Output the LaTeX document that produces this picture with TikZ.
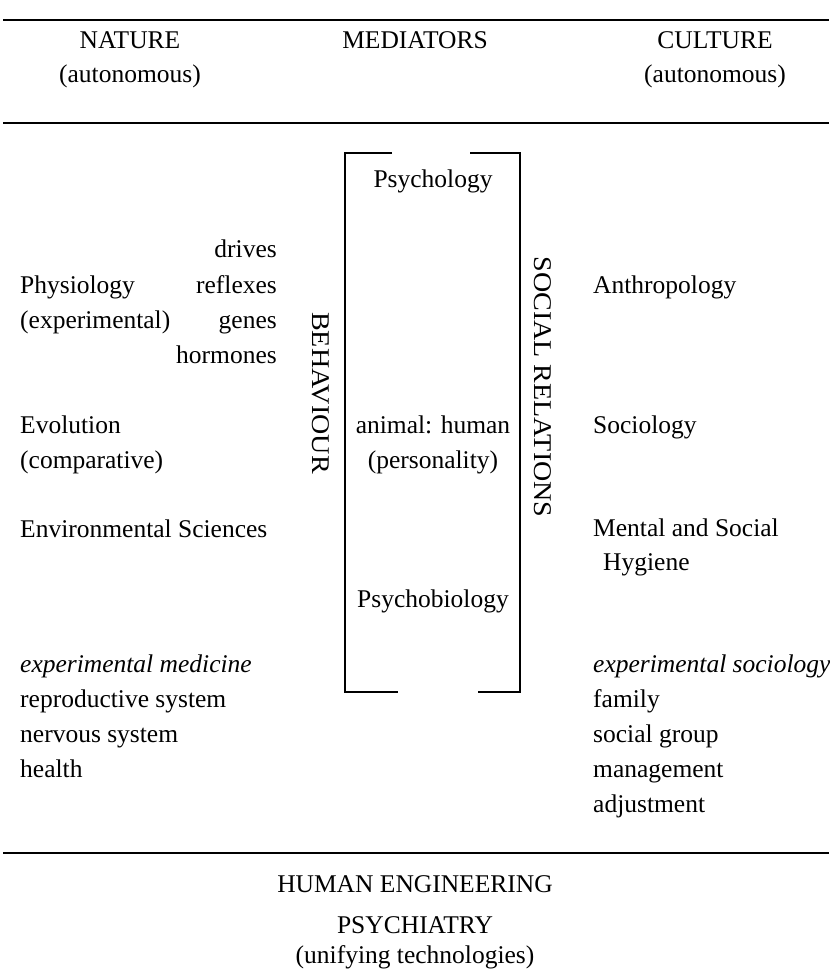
\documentclass[tikz,border=0pt]{standalone}
\usepackage{fontspec}
\setmainfont{Liberation Serif}
\begin{document}
\begin{tikzpicture}[x=1pt,y=-1pt,
  every node/.style={inner sep=0pt, font=\fontsize{25.5}{35}\selectfont},
  lt/.style={anchor=base west},
  rt/.style={anchor=base east},
  ct/.style={anchor=base},
  vt/.style={rotate=-90, anchor=center},
  rule/.style={line width=1.6pt},
  brk/.style={line width=1.3pt}]
\useasboundingbox (0,0) rectangle (829,976);
% rules
\draw[rule] (3,20) -- (829,20);
\draw[rule] (3,123) -- (829,123);
\draw[rule] (3,853) -- (829,853);
% headings
\node[ct] (nature) at (130,49) {NATURE};
\node[ct] (natauto) at (130,83) {(autonomous)};
\node[ct] (med) at (415,49) {MEDIATORS};
\node[ct] (culture) at (715,49) {CULTURE};
\node[ct] (culauto) at (715,83) {(autonomous)};
% bracket
\draw[brk] (392,153) -- (345,153) -- (345,692) -- (398,692);
\draw[brk] (470,153) -- (520,153) -- (520,692) -- (478,692);
\node[ct] (psy) at (433,188) {Psychology};
\node[ct] (anim) at (433,433) {animal: human};
\node[ct] (pers) at (433,468) {(personality)};
\node[ct] (psybio) at (433,607) {Psychobiology};
% vertical labels
\node[vt] (beh) at (321,393) {\scalebox{1.1}[1]{BEHAVIOUR}};
\node[vt] (soc) at (543,387) {\scalebox{1.1}[1]{SOCIAL RELATIONS}};
% nature column
\node[rt] (drives) at (277,258) {drives};
\node[rt] (refl) at (277,293) {reflexes};
\node[rt] (genes) at (277,328) {genes};
\node[rt] (horm) at (277,363) {hormones};
\node[lt] (phys) at (20,293) {Physiology};
\node[lt] (physx) at (20,328) {(experimental)};
\node[lt] (evo) at (20,433) {Evolution};
\node[lt] (evoc) at (20,468) {(comparative)};
\node[lt] (env) at (20,537) {Environmental Sciences};
\node[lt] (expmed) at (20,672) {\itshape experimental medicine};
\node[lt] (repro) at (20,707) {reproductive system};
\node[lt] (nerv) at (20,742) {nervous system};
\node[lt] (health) at (20,777) {health};
% culture column
\node[lt] (anth) at (593,293) {Anthropology};
\node[lt] (sociol) at (593,433) {Sociology};
\node[lt] (ment) at (593,536) {Mental and Social};
\node[lt] (hyg) at (603,570) {Hygiene};
\node[lt] (expsoc) at (593,672) {\itshape experimental sociology};
\node[lt] (fam) at (593,707) {family};
\node[lt] (sgrp) at (593,742) {social group};
\node[lt] (mgmt) at (593,777) {management};
\node[lt] (adj) at (593,812) {adjustment};
% bottom
\node[ct] (hum) at (415,892) {HUMAN ENGINEERING};
\node[ct] (psych) at (415,933) {PSYCHIATRY};
\node[ct] (unif) at (415,963) {(unifying technologies)};
\end{tikzpicture}
\end{document}
